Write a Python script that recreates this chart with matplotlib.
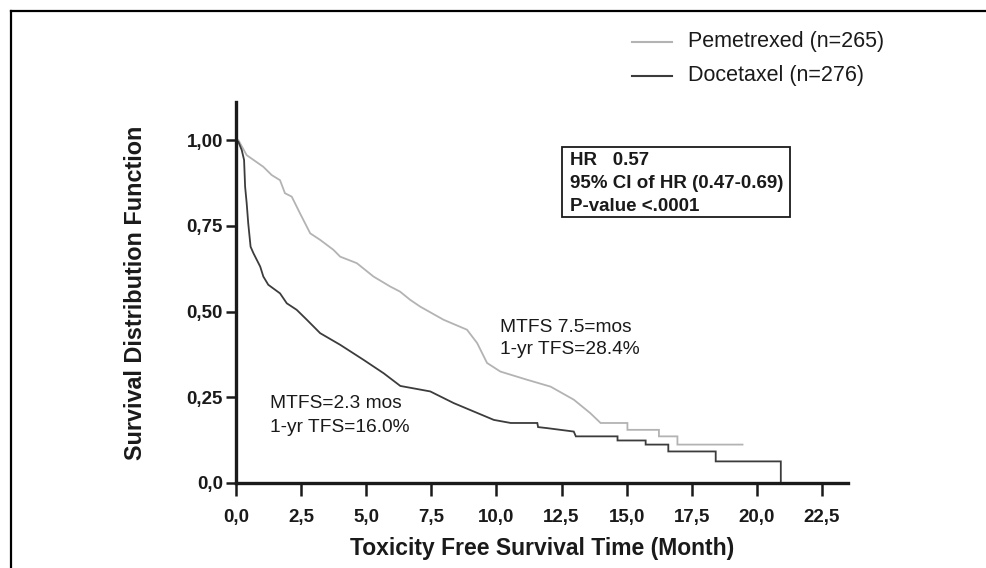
import matplotlib
matplotlib.use("Agg")
import matplotlib.pyplot as plt
from matplotlib.lines import Line2D
from matplotlib.patches import Rectangle

plt.rcParams['font.family'] = ['Liberation Sans', 'DejaVu Sans']

# ---- data ----
pem_time = [0, 0.09, 0.41, 1.05, 1.37, 1.69, 1.88, 2.14, 2.46, 2.85, 3.23, 3.74, 4.0,
            4.64, 5.28, 5.92, 6.3, 6.69, 7.08, 7.97, 8.87, 9.26, 9.64, 10.15, 11.18,
            12.08, 12.97, 13.6, 14.0, 15.03, 15.03, 16.24, 16.24, 16.95, 16.95, 19.45]
pem_surv = [1.0, 1.0, 0.956, 0.922, 0.898, 0.883, 0.845, 0.835, 0.786, 0.728, 0.709, 0.680, 0.66,
            0.641, 0.602, 0.573, 0.558, 0.534, 0.514, 0.476, 0.447, 0.408, 0.350, 0.325, 0.301,
            0.281, 0.243, 0.204, 0.175, 0.175, 0.155, 0.155, 0.136, 0.136, 0.112, 0.112]

doc_time = [0, 0.09, 0.22, 0.31, 0.35, 0.41, 0.47, 0.56, 0.67, 0.93, 1.05, 1.24, 1.69, 1.95,
            2.33, 2.72, 3.1, 3.23, 4.0, 4.9, 5.67, 6.31, 7.46, 8.36, 9.9, 10.55, 11.57, 11.6,
            11.95, 12.97, 13.05, 14.65, 14.65, 15.73, 15.73, 16.6, 16.6, 18.42, 18.42, 20.92, 20.92]
doc_surv = [1.0, 0.995, 0.971, 0.942, 0.864, 0.816, 0.757, 0.689, 0.67, 0.631, 0.602, 0.578, 0.553, 0.524,
            0.505, 0.476, 0.447, 0.437, 0.403, 0.359, 0.320, 0.283, 0.267, 0.233, 0.184, 0.175, 0.175, 0.163,
            0.160, 0.150, 0.136, 0.136, 0.124, 0.124, 0.112, 0.112, 0.092, 0.092, 0.063, 0.063, 0.0]

series_labels = ["Pemetrexed (n=265)", "Docetaxel (n=276)"]
x_ticks = [0, 2.5, 5, 7.5, 10, 12.5, 15, 17.5, 20, 22.5]
x_tick_labels = ["0,0", "2,5", "5,0", "7,5", "10,0", "12,5", "15,0", "17,5", "20,0", "22,5"]
y_ticks = [0, 0.25, 0.5, 0.75, 1.0]
y_tick_labels = ["0,0", "0,25", "0,50", "0,75", "1,00"]
stats_lines = ["HR   0.57", "95% CI of HR (0.47-0.69)", "P-value <.0001"]
pem_note = ["MTFS 7.5=mos", "1-yr TFS=28.4%"]
doc_note = ["MTFS=2.3 mos", "1-yr TFS=16.0%"]

W, H = 986, 568
fig = plt.figure(figsize=(W / 100, H / 100), dpi=100)

def fx(px):
    return px / W

def fy(py):
    return 1 - py / H

ax = fig.add_axes([fx(236), fy(483), fx(848) - fx(236), fy(102) - fy(483)])

pem_color = "#b3b3b3"
doc_color = "#3c3c3c"
ax.plot(pem_time, pem_surv, color=pem_color, lw=1.3, solid_joinstyle='miter')
ax.plot(doc_time, doc_surv, color=doc_color, lw=1.3, solid_joinstyle='miter')

ax.set_xlim(0, 23.5)
ax.set_ylim(0, 1.111)
for s in ['top', 'right']:
    ax.spines[s].set_visible(False)
for s in ['left', 'bottom']:
    ax.spines[s].set_linewidth(2.4)
    ax.spines[s].set_color('#1a1a1a')

ax.set_xticks(x_ticks)
ax.set_xticklabels(x_tick_labels, fontsize=13.5, fontweight='bold', color='#1a1a1a')
ax.set_yticks(y_ticks)
ax.set_yticklabels(y_tick_labels, fontsize=13.5, fontweight='bold', color='#1a1a1a')
ax.tick_params(axis='x', direction='out', length=9, width=1.8, pad=10, color='#1a1a1a')
ax.tick_params(axis='y', direction='out', length=7, width=1.8, pad=2.5, color='#1a1a1a')

fig.text(fx(542), fy(548), "Toxicity Free Survival Time (Month)", fontsize=16.5,
         fontweight='bold', ha='center', va='center', color='#1a1a1a')
fig.text(fx(135), fy(293), "Survival Distribution Function", fontsize=16.8,
         fontweight='bold', ha='center', va='center', rotation=90, color='#1a1a1a')

# annotations
ax_tr = fig.transFigure
for i, t in enumerate(pem_note):
    fig.text(fx(500), fy(327 + 23 * i), t, fontsize=13.8, ha='left', va='center', color='#1a1a1a')
for i, t in enumerate(doc_note):
    fig.text(fx(270), fy(404 + 23 * i), t, fontsize=13.8, ha='left', va='center', color='#1a1a1a')

# stats box
fig.add_artist(Rectangle((fx(562), fy(217)), fx(790) - fx(562), fy(147) - fy(217),
                         transform=ax_tr, fill=False, lw=1.3, edgecolor='#1a1a1a'))
for i, t in enumerate(stats_lines):
    fig.text(fx(570), fy(160 + 23 * i), t, fontsize=13.5, fontweight='bold',
             ha='left', va='center', color='#1a1a1a')

# legend
for i, (lab, col) in enumerate(zip(series_labels, [pem_color, doc_color])):
    yy = 42 + 34 * i
    fig.add_artist(Line2D([fx(632), fx(672)], [fy(yy), fy(yy)], transform=ax_tr,
                          color=col, lw=1.5))
    fig.text(fx(688), fy(yy), lab, fontsize=15.5, ha='left', va='center', color='#1a1a1a')

# figure frame (top and left edges)
fig.add_artist(Line2D([fx(11), fx(986)], [fy(11), fy(11)], transform=ax_tr, color='black', lw=1.6))
fig.add_artist(Line2D([fx(11), fx(11)], [fy(11), fy(568)], transform=ax_tr, color='black', lw=1.6))

fig.savefig("out.png", dpi=100)
